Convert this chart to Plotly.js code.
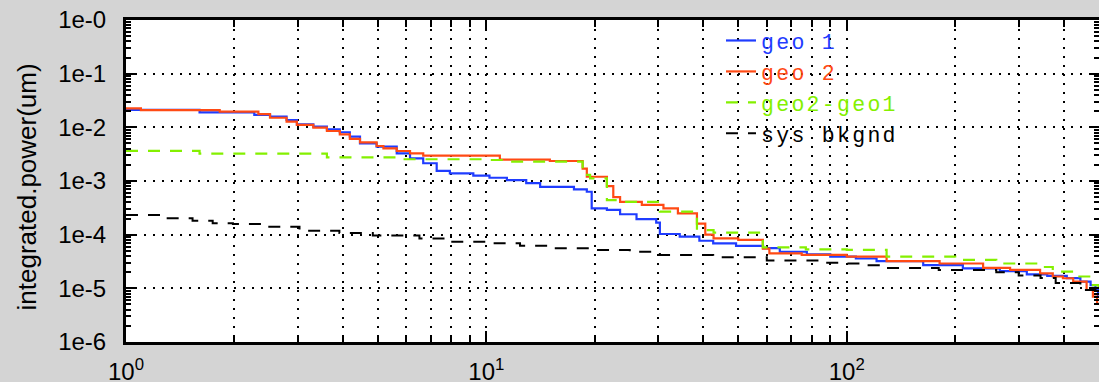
<!DOCTYPE html>
<html>
<head>
<meta charset="utf-8">
<script src="https://cdn.plot.ly/plotly-3.0.1.min.js"></script>
<style>
html,body{margin:0;padding:0;background:#d4d4d4;}
#chart{width:1099px;height:382px;}
.legend .legendtext{letter-spacing:2.3px;}
.legend .scrollbox{clip-path:none !important;}
</style>
</head>
<body>
<div id="chart"></div>
<script>
// geo 1 (step start x, level)
var geo1X = [1, 1.6, 2.27, 2.51, 2.79, 2.98, 3.31, 3.61, 3.92, 4.18, 4.46, 4.96, 5.64, 6.14, 6.68, 7.28, 7.92, 9.2, 10.2, 11.4, 12.9, 14.1, 17.5, 19.0, 19.6, 21.6, 23.5, 26.1, 29.6, 30.3, 34.4, 39, 42.6, 49.3, 58.6, 65.2, 77.5, 90, 106, 121, 163, 210, 266, 316, 360, 408, 445, 475, 490, 498, 500];
var geo1Y = [0.0212, 0.019, 0.017, 0.0158, 0.0137, 0.0114, 0.0103, 0.0092, 0.0081, 0.0067, 0.00504, 0.00437, 0.00328, 0.00265, 0.00214, 0.00154, 0.00139, 0.00126, 0.00115, 0.00104, 0.00091, 0.00078, 0.0007, 0.00063, 0.00031, 0.00029, 0.00024, 0.000195, 0.000167, 0.000103, 9.2e-5, 7.7e-5, 6.9e-5, 6.2e-5, 5.6e-5, 4.8e-5, 4.3e-5, 3.9e-5, 3.6e-5, 3.2e-5, 2.7e-5, 2.36e-5, 2.1e-5, 1.82e-5, 1.7e-5, 1.55e-5, 1.33e-5, 1.15e-5, 9.3e-6, 7.5e-6, 7.5e-6];

var geo2X = [1, 1.1, 1.82, 2.33, 2.51, 2.79, 2.98, 3.31, 3.61, 3.92, 4.18, 4.46, 4.96, 5.18, 5.64, 6.14, 6.68, 10.9, 15, 18.5, 19.0, 21.6, 22.5, 23.5, 27, 31, 34, 38.4, 40.5, 42.7, 50, 58.5, 61, 75, 100, 129, 181, 239, 284, 344, 373, 398, 425, 463, 482, 495, 500];
var geo2Y = [0.0226, 0.021, 0.0196, 0.0177, 0.0151, 0.0128, 0.0111, 0.00986, 0.00855, 0.00741, 0.00607, 0.00526, 0.00449, 0.00406, 0.00362, 0.00328, 0.00296, 0.0025, 0.00236, 0.0017, 0.0012, 0.0008, 0.0005, 0.00041, 0.00036, 0.00031, 0.00025, 0.00016, 0.0001, 8.5e-5, 8e-5, 5.5e-5, 4.5e-5, 4.2e-5, 3.9e-5, 3.2e-5, 2.9e-5, 2.4e-5, 2.2e-5, 1.9e-5, 1.66e-5, 1.54e-5, 1.33e-5, 9.3e-6, 7e-6, 5.2e-6, 5.2e-6];

var diffX = [1, 1.6, 3.61, 5.76, 10, 11.5, 18.5, 19.4, 21.6, 23.5, 30.3, 38.4, 42.7, 58.5, 77, 100, 129, 200, 260, 344, 373, 425, 475, 500];
var diffY = [0.00365, 0.00325, 0.00276, 0.00254, 0.00246, 0.00229, 0.0013, 0.00112, 0.00044, 0.00041, 0.000268, 0.000122, 0.000109, 5.8e-5, 5.3e-5, 5.2e-5, 3.9e-5, 3.4e-5, 2.9e-5, 2.5e-5, 2.04e-5, 1.66e-5, 1.15e-5, 1.0e-5];

var bkgX = [1, 1.29, 1.53, 1.74, 1.98, 2.45, 3.03, 3.91, 4.84, 6.52, 7.7, 10.4, 12.4, 15.3, 19.4, 25, 30.3, 42.6, 60, 85, 100, 115, 125, 180, 260, 300, 345, 380, 445, 490];
var bkgY = [0.000233, 0.000202, 0.000182, 0.000163, 0.000158, 0.000141, 0.000118, 0.000107, 9.6e-5, 8.5e-5, 7.4e-5, 6.9e-5, 6.2e-5, 5.6e-5, 5.2e-5, 4.8e-5, 4.2e-5, 3.8e-5, 3.3e-5, 3.0e-5, 2.9e-5, 2.7e-5, 2.4e-5, 2.2e-5, 2.0e-5, 1.73e-5, 1.55e-5, 1.26e-5, 9.3e-6, 8e-6];

var seriesNames = ['geo 1', 'geo 2', 'geo2-geo1', 'sys bkgnd'];
var xMajor = [1, 10, 100];
var xMajorText = ['10<sup>0</sup>', '10<sup>1</sup>', '10<sup>2</sup>'];
var yMajor = [1e-6, 1e-5, 1e-4, 1e-3, 1e-2, 1e-1, 1];
var yMajorText = ['1e-6', '1e-5', '1e-4', '1e-3', '1e-2', '1e-1', '1e-0'];
var yTitle = 'integrated.power(um)';

var colors = ['#1f3cff', '#ff4a14', '#84f000', '#000000'];
function minorVals(lo, hi) {
  var out = [];
  for (var d = lo; d <= hi; d *= 10) for (var m = 2; m <= 9; m++) out.push(m * d);
  return out;
}
function nm(i) { return '<span style="color:' + colors[i] + '">' + seriesNames[i] + '</span>'; }

var traces = [
  {x: geo1X, y: geo1Y, name: nm(0), mode: 'lines', line: {shape: 'hv', color: colors[0], width: 2.2}},
  {x: geo2X, y: geo2Y, name: nm(1), mode: 'lines', line: {shape: 'hv', color: colors[1], width: 2.2}},
  {x: diffX, y: diffY, name: nm(2), mode: 'lines', line: {shape: 'hv', color: colors[2], width: 2.2, dash: '12px,10px'}},
  {x: bkgX, y: bkgY, name: nm(3), mode: 'lines', line: {shape: 'hv', color: colors[3], width: 2, dash: '12px,10px'}}
];

var gridDash = '2px,7px';
var layout = {
  width: 1099, height: 382,
  paper_bgcolor: '#d4d4d4', plot_bgcolor: '#ffffff',
  margin: {l: 126, r: 0, t: 20, b: 40},
  font: {family: 'Liberation Sans, Arial, sans-serif', color: '#000'},
  showlegend: true,
  legend: {x: 0.6115, y: 1.0, xanchor: 'left', yanchor: 'top', bgcolor: 'rgba(0,0,0,0)',
           font: {family: 'Liberation Mono, monospace', size: 21.5}, itemwidth: 30, tracegroupgap: 0},
  xaxis: {type: 'log', range: [0, 2.7], tickmode: 'array', tickvals: xMajor, ticktext: xMajorText,
          ticks: 'inside', ticklen: 11, tickwidth: 2, tickcolor: '#000',
          showline: true, linecolor: '#000', linewidth: 3, mirror: 'ticks',
          showgrid: true, gridcolor: '#000', gridwidth: 2, griddash: gridDash, zeroline: false,
          tickfont: {size: 24}, ticklabelstandoff: 6,
          minor: {tickvals: minorVals(1, 100), ticks: 'inside', ticklen: 7, tickwidth: 2, tickcolor: '#000',
                  showgrid: true, gridcolor: '#000', gridwidth: 2, griddash: gridDash}},
  yaxis: {type: 'log', range: [-6, 0], tickmode: 'array', tickvals: yMajor, ticktext: yMajorText,
          ticks: 'inside', ticklen: 10, tickwidth: 2, tickcolor: '#000',
          showline: true, linecolor: '#000', linewidth: 3, mirror: 'ticks',
          showgrid: true, gridcolor: '#000', gridwidth: 2, griddash: gridDash, zeroline: false,
          tickfont: {size: 24}, ticklabelstandoff: 12,
          minor: {tickvals: minorVals(1e-6, 0.1), ticks: 'inside', ticklen: 5, tickwidth: 2, tickcolor: '#000', showgrid: false}},
  annotations: [{text: yTitle, xref: 'paper', yref: 'paper', x: -0.1017, y: 0.48, xanchor: 'center', yanchor: 'middle',
                 textangle: -90, showarrow: false, font: {size: 26, color: '#000'}}]
};

Plotly.newPlot('chart', traces, layout, {displayModeBar: false, staticPlot: true});
</script>
</body>
</html>
